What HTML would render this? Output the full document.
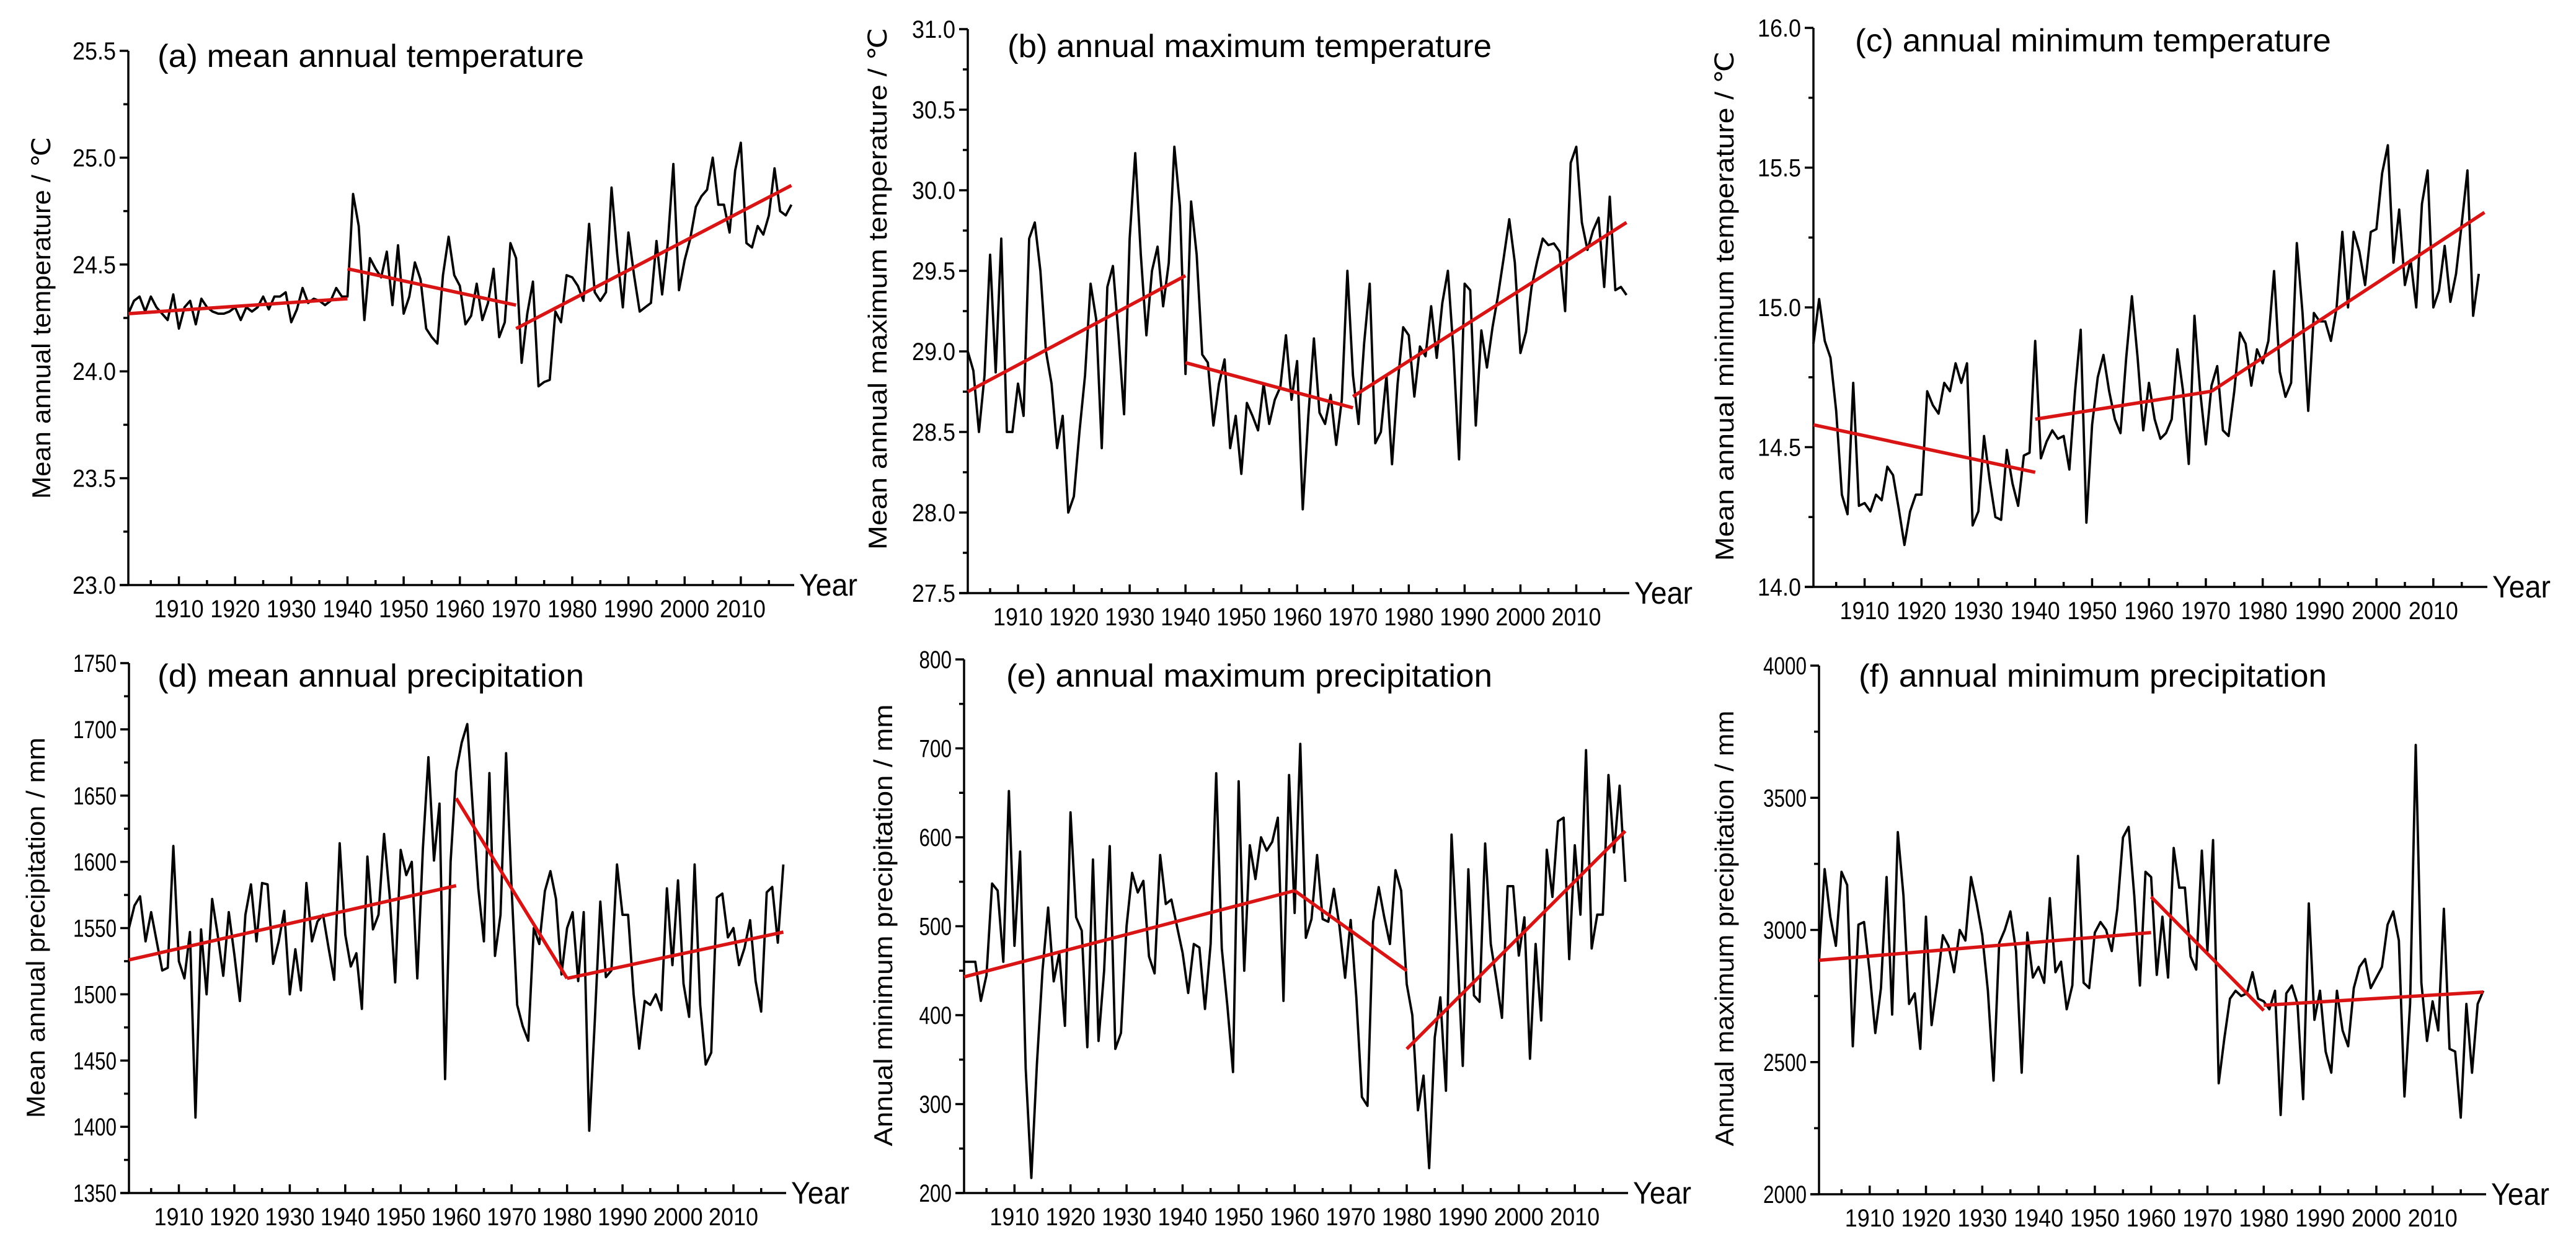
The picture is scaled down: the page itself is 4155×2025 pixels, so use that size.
<!DOCTYPE html>
<html><head><meta charset="utf-8"><style>
html,body{margin:0;padding:0;background:#fff;}
svg{display:block;}
text{font-family:"Liberation Sans Narrow","Liberation Sans",sans-serif;fill:#000;}
.yt{font-family:"Liberation Sans",sans-serif;}
</style></head><body>
<svg id="chart" width="4155" height="2025" viewBox="0 0 4155 2025" xmlns="http://www.w3.org/2000/svg"></svg>
<script>
const startYear = 1901;
const xTickYears = [1910,1920,1930,1940,1950,1960,1970,1980,1990,2000,2010];

const meanTemp = [24.27,24.33,24.35,24.28,24.35,24.30,24.27,24.24,24.36,24.20,
24.30,24.33,24.22,24.34,24.30,24.28,24.27,24.27,24.28,24.30,
24.24,24.30,24.28,24.30,24.35,24.29,24.35,24.35,24.37,24.23,
24.29,24.39,24.32,24.34,24.33,24.31,24.33,24.39,24.35,24.35,
24.83,24.68,24.24,24.53,24.48,24.44,24.56,24.31,24.59,
24.27,24.35,24.51,24.43,24.20,24.16,24.13,24.45,24.63,24.45,
24.40,24.22,24.26,24.41,24.24,24.32,24.48,24.16,24.23,24.60,
24.53,24.04,24.27,24.42,23.93,23.95,23.96,24.28,24.23,24.45,
24.44,24.40,24.33,24.69,24.37,24.33,24.37,24.86,24.55,24.30,
24.65,24.45,24.28,24.30,24.32,24.61,24.36,24.60,24.97,24.38,
24.52,24.62,24.77,24.82,24.85,25.00,24.78,24.78,24.65,24.94,
25.07,24.60,24.58,24.68,24.64,24.73,24.95,24.75,24.73,24.78];
const meanTempTrend = [[1901,24.27,1940,24.34],[1940,24.48,1970,24.31],[1970,24.20,2019,24.87]];

const maxTemp = [29.0,28.88,28.50,28.85,29.60,28.87,29.70,28.50,28.50,28.80,
28.60,29.70,29.80,29.50,29.00,28.80,28.40,28.60,28.00,28.10,
28.50,28.85,29.42,29.20,28.40,29.40,29.53,29.10,28.61,29.70,
30.23,29.60,29.10,29.50,29.65,29.28,29.55,30.27,29.90,28.86,
29.93,29.60,28.98,28.93,28.54,28.80,28.95,28.40,28.60,28.24,
28.68,28.60,28.51,28.80,28.55,28.70,28.78,29.10,28.70,28.94,
28.02,28.60,29.08,28.62,28.55,28.73,28.42,28.70,29.50,28.85,
28.55,29.05,29.42,28.43,28.50,28.85,28.30,28.80,29.15,29.10,
28.72,29.03,28.97,29.28,28.96,29.30,29.50,29.00,28.33,29.42,
29.38,28.54,29.13,28.90,29.15,29.35,29.58,29.82,29.55,28.99,
29.12,29.40,29.56,29.70,29.66,29.67,29.62,29.25,30.17,30.27,
29.80,29.63,29.75,29.83,29.40,29.96,29.38,29.40,29.35];
const maxTempTrend = [[1901,28.75,1940,29.47],[1940,28.93,1970,28.65],[1970,28.72,2019,29.80]];

const minTemp = [14.87,15.03,14.88,14.82,14.63,14.33,14.26,14.73,14.29,14.30,
14.27,14.33,14.31,14.43,14.40,14.28,14.15,14.27,14.33,14.33,
14.70,14.65,14.62,14.73,14.70,14.80,14.73,14.80,14.22,14.27,
14.54,14.38,14.25,14.24,14.49,14.37,14.29,14.47,14.48,14.88,
14.46,14.52,14.56,14.53,14.54,14.42,14.70,14.92,14.23,14.58,
14.75,14.83,14.70,14.60,14.55,14.82,15.04,14.82,14.56,14.73,
14.60,14.53,14.55,14.60,14.85,14.70,14.44,14.97,14.70,14.51,
14.72,14.79,14.56,14.54,14.70,14.91,14.87,14.72,14.85,14.80,
14.88,15.13,14.77,14.68,14.73,15.23,14.98,14.63,14.98,14.95,
14.95,14.88,15.00,15.27,15.00,15.27,15.20,15.08,15.27,15.28,
15.48,15.58,15.16,15.35,15.08,15.17,15.00,15.37,15.49,15.00,
15.06,15.22,15.02,15.12,15.30,15.49,14.97,15.12];
const minTempTrend = [[1901,14.58,1940,14.41],[1940,14.60,1971,14.70],[1971,14.70,2019,15.34]];

const meanPrec = [1550,1567,1574,1540,1562,1540,1518,1520,1612,1525,
1512,1547,1407,1549,1500,1572,1545,1514,1562,1530,
1495,1560,1583,1540,1584,1583,1523,1540,1563,1500,
1534,1503,1584,1540,1555,1560,1535,1511,1614,1545,
1521,1531,1489,1604,1549,1560,1621,1575,1509,1609,
1590,1600,1512,1610,1679,1601,1644,1436,1600,1668,
1690,1704,1640,1580,1540,1667,1529,1560,1682,1580,
1492,1476,1465,1550,1538,1578,1593,1572,1515,1550,
1562,1510,1562,1397,1480,1570,1513,1518,1598,1560,
1560,1500,1459,1495,1492,1500,1488,1580,1522,1586,
1508,1483,1598,1492,1447,1456,1573,1576,1543,1550,
1522,1535,1556,1510,1487,1577,1581,1539,1598];
const meanPrecTrend = [[1901,1526,1960,1582],[1960,1648,1980,1512],[1980,1512,2019,1547]];

const maxPrec = [460,460,460,416,445,548,540,460,652,478,
584,340,217,345,450,521,438,470,388,628,
510,495,364,575,371,450,590,362,380,500,
560,538,551,466,447,580,525,530,500,470,
425,480,476,407,480,672,475,410,336,663,
450,591,553,600,585,595,622,416,670,515,
705,487,508,580,508,505,542,500,442,507,
420,308,298,505,544,510,480,563,540,435,
400,293,332,228,375,420,315,603,480,343,
564,422,415,593,480,440,397,545,545,467,
510,351,480,394,586,533,618,622,463,591,
513,698,475,513,513,670,583,658,550];
const maxPrecTrend = [[1901,443,1960,540],[1960,540,1980,450],[1980,362,2019,607]];

const minPrec = [2880,3230,3050,2940,3220,3170,2560,3020,3030,2840,
2610,2780,3200,2680,3370,3130,2720,2760,2550,3050,
2640,2800,2980,2940,2840,3000,2960,3200,3100,2980,
2770,2430,2950,3000,3070,2920,2460,2990,2820,2860,
2800,3120,2840,2880,2700,2790,3280,2800,2780,2990,
3030,3000,2920,3080,3350,3390,3130,2790,3220,3200,
2830,3050,2820,3310,3160,3160,2900,2850,3300,2920,
3340,2420,2590,2740,2770,2750,2760,2840,2740,2730,
2700,2770,2300,2760,2790,2720,2360,3100,2660,2770,
2540,2460,2770,2620,2560,2780,2860,2890,2780,2820,
2860,3020,3070,2960,2370,2720,3700,2800,2580,2730,
2620,3080,2550,2540,2290,2720,2460,2720,2770];
const minPrecTrend = [[1901,2885,1960,2990],[1960,3125,1980,2695],[1980,2715,2019,2765]];

const tempTicksA = ["23.0","23.5","24.0","24.5","25.0","25.5"];
const tempTicksB = ["27.5","28.0","28.5","29.0","29.5","30.0","30.5","31.0"];
const tempTicksC = ["14.0","14.5","15.0","15.5","16.0"];
const precTicksD = ["1350","1400","1450","1500","1550","1600","1650","1700","1750"];
const precTicksE = ["200","300","400","500","600","700","800"];
const precTicksF = ["2000","2500","3000","3500","4000"];

const NS = "http://www.w3.org/2000/svg";
const svg = document.getElementById('chart');
function mk(tag, attrs, parent){ const e=document.createElementNS(NS,tag); for(const k in attrs) e.setAttribute(k,attrs[k]); (parent||svg).appendChild(e); return e; }

const panels = [
 {id:'a', vals:meanTemp, trend:meanTempTrend, ticks:tempTicksA, x0:207, x1:1281, y0:944, y1:82,
  title:'(a) mean annual temperature', tx:254, ty:108, tw:688, yt:'Mean annual temperature / ℃', ytx:67, yty:513, ytl:584},
 {id:'b', vals:maxTemp, trend:maxTempTrend, ticks:tempTicksB, x0:1561, x1:2628, y0:957, y1:47,
  title:'(b) annual maximum temperature', tx:1625, ty:92, tw:781, yt:'Mean annual maximum temperature / ℃', ytx:1416, yty:466, ytl:842},
 {id:'c', vals:minTemp, trend:minTempTrend, ticks:tempTicksC, x0:2925, x1:4012, y0:947, y1:45,
  title:'(c) annual minimum temperature', tx:2992, ty:83, tw:768, yt:'Mean annual minimum temperature / ℃', ytx:2782, yty:494, ytl:822},
 {id:'d', vals:meanPrec, trend:meanPrecTrend, ticks:precTicksD, x0:208, x1:1268, y0:1925, y1:1070,
  title:'(d) mean annual precipitation', tx:254, ty:1108, tw:688, yt:'Mean annual precipitation / mm', ytx:58, yty:1497, ytl:614},
 {id:'e', vals:maxPrec, trend:maxPrecTrend, ticks:precTicksE, x0:1555, x1:2626, y0:1925, y1:1064,
  title:'(e) annual maximum precipitation', tx:1623, ty:1108, tw:784, yt:'Annual  minimum precipitation / mm', ytx:1425, yty:1493, ytl:713},
 {id:'f', vals:minPrec, trend:minPrecTrend, ticks:precTicksF, x0:2934, x1:4010, y0:1927, y1:1074,
  title:'(f) annual minimum precipitation', tx:2998, ty:1108, tw:755, yt:'Annual maximum precipitation / mm', ytx:2782, yty:1498, ytl:703}
];

panels.forEach(p=>{
  const g = mk('g',{});
  
  
  const tmin=parseFloat(p.ticks[0]), tmax=parseFloat(p.ticks[p.ticks.length-1]);
  const yEnd = 2019.5;
  const X = yr => p.x0 + (yr-startYear)/(yEnd-startYear)*(p.x1-p.x0);
  const Y = v => p.y0 - (v-tmin)/(tmax-tmin)*(p.y0-p.y1);
  const ya = mk('line',{x1:p.x0,y1:p.y0,x2:p.x0,y2:p.y1,stroke:'#000','stroke-width':3.5},g);
  
  
  const xa = mk('line',{x1:p.x0-14,y1:p.y0,x2:p.x1,y2:p.y0,stroke:'#000','stroke-width':3.5},g);
  
  
  p.ticks.forEach((t,i)=>{
    const v=parseFloat(t), y=Y(v);
    mk('line',{x1:p.x0-14,y1:y,x2:p.x0,y2:y,stroke:'#000','stroke-width':3.5},g);
    if(i<p.ticks.length-1){ const ym=Y((v+parseFloat(p.ticks[i+1]))/2); mk('line',{x1:p.x0-8,y1:ym,x2:p.x0,y2:ym,stroke:'#000','stroke-width':3.5},g); }
    const tl = mk('text',{x:p.x0-20,y:y+14,'text-anchor':'end','font-size':40,textLength:t.length*17.5,lengthAdjust:'spacingAndGlyphs'},g);
    tl.textContent=t;
    
    
  });
  for(let yr=1905; yr<=2015; yr+=5){
    const major = yr%10===0, x=X(yr);
    mk('line',{x1:x,y1:p.y0,x2:x,y2:p.y0-(major?14:8),stroke:'#000','stroke-width':3.5},g);
  }
  xTickYears.forEach(yr=>{
    const tl = mk('text',{x:X(yr),y:p.y0+52,'text-anchor':'middle','font-size':40,textLength:80,lengthAdjust:'spacingAndGlyphs'},g);
    tl.textContent=String(yr);
    
    
  });
  const yl = mk('text',{x:p.x1+8,y:p.y0+17,'font-size':50,textLength:94,lengthAdjust:'spacingAndGlyphs'},g);
  yl.textContent='Year';
  
  
  const tt = mk('text',{x:p.tx,y:p.ty,'font-size':52,textLength:p.tw,lengthAdjust:'spacingAndGlyphs'},g);
  tt.textContent=p.title;
  
  
  const yt = mk('text',{class:'yt',x:0,y:0,'text-anchor':'middle','font-size':42,textLength:p.ytl,lengthAdjust:'spacingAndGlyphs',transform:`translate(${p.ytx+14},${p.yty}) rotate(-90)`},g);
  yt.textContent=p.yt;
  
  
  const pts = p.vals.map((v,i)=>X(startYear+i).toFixed(1)+','+Y(v).toFixed(1)).join(' ');
  const pl = mk('polyline',{points:pts,fill:'none',stroke:'#000','stroke-width':3.8,'stroke-linejoin':'round'},g);
  
  
  p.trend.forEach(s=>{
    const l = mk('line',{x1:X(s[0]),y1:Y(s[1]),x2:X(s[2]),y2:Y(s[3]),stroke:'#d91414','stroke-width':5.5},g);
    
    
  });
});
</script>
</body></html>
